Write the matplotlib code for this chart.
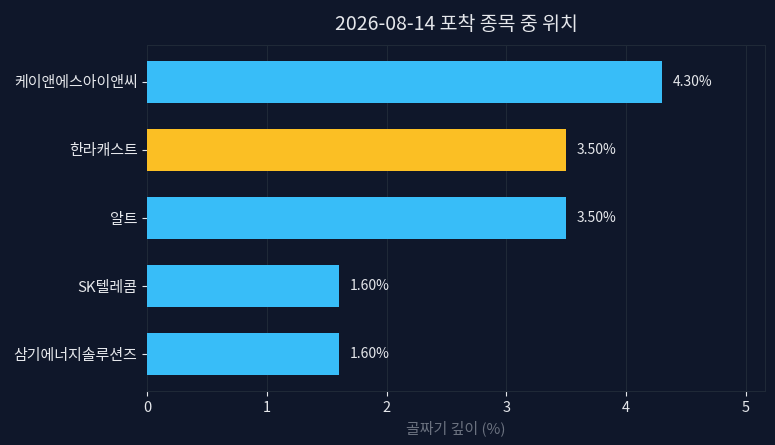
import matplotlib
matplotlib.use("Agg")
import matplotlib.pyplot as plt

plt.rcParams['font.family'] = ['Noto Sans CJK KR', 'DejaVu Sans']

stocks = ['케이앤에스아이앤씨', '한라캐스트', '알트', 'SK텔레콤', '삼기에너지솔루션즈']
depth = [4.30, 3.50, 3.50, 1.60, 1.60]
highlight = '한라캐스트'

bg = '#0f172a'
colors = ['#fbbf24' if s == highlight else '#38bdf8' for s in stocks]

fig, ax = plt.subplots(figsize=(7.75, 4.45), dpi=100)
fig.patch.set_facecolor(bg)
ax.set_facecolor(bg)

y = list(range(len(stocks)))
bars = ax.barh(y, depth, height=0.62, color=colors, zorder=3)
ax.set_yticks(y)
ax.set_yticklabels(stocks, fontsize=10.8)
ax.invert_yaxis()
ax.set_xlim(0, max(depth) * 1.2)

for b, v in zip(bars, depth):
    ax.text(b.get_width() + 0.09, b.get_y() + b.get_height() / 2, f'{v:.2f}%',
            va='center', ha='left', color='#e5e7eb', fontsize=10)

ax.set_title('2026-08-14 포착 종목 중 위치', color='#e5e7eb', fontsize=14, pad=11)
ax.set_xlabel('골짜기 깊이 (%)', color='#6b7280', fontsize=10.8)
ax.tick_params(colors='#e5e7eb')
ax.tick_params(axis='x', labelsize=10.5)
ax.grid(axis='x', color='#1f2937', linewidth=0.8, zorder=0)
for sp in ax.spines.values():
    sp.set_color('#1f2937')

fig.subplots_adjust(left=0.19, right=0.987, top=0.899, bottom=0.121)
fig.savefig('out.png', facecolor=bg)
